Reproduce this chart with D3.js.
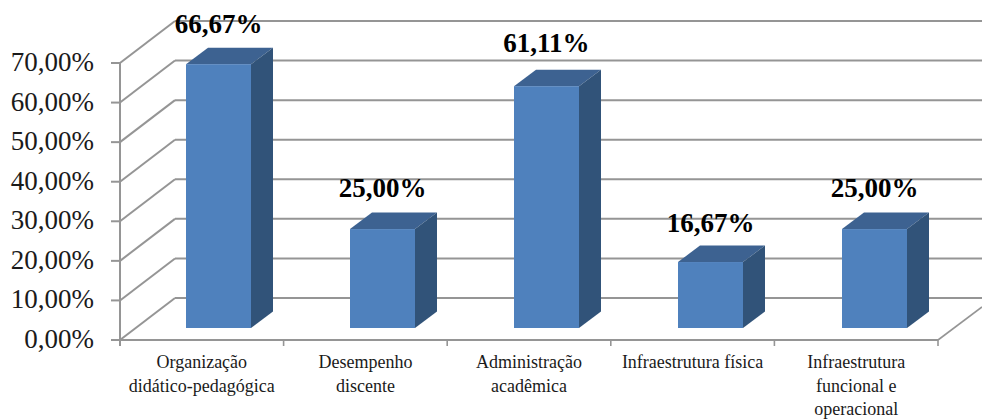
<!DOCTYPE html>
<html><head><meta charset="utf-8">
<script src="https://cdn.jsdelivr.net/npm/d3@7"></script>
<style>html,body{margin:0;padding:0;background:#fff}svg{display:block}text{font-family:"Liberation Serif",serif}</style>
</head><body><svg id="c" width="982" height="419"></svg>
<script>
const categories=[["Organização","didático-pedagógica"],["Desempenho","discente"],["Administração","acadêmica"],["Infraestrutura física"],["Infraestrutura","funcional e","operacional"]];
const values=[66.67,25,61.11,16.67,25];
const valueLabels=["66,67%","25,00%","61,11%","16,67%","25,00%"];
const ticks=[0,10,20,30,40,50,60,70];
const tickLabels=["0,00%","10,00%","20,00%","30,00%","40,00%","50,00%","60,00%","70,00%"];
const svg=d3.select("#c");
const y=d3.scaleLinear().domain([0,70]).range([340,63]);
const x=d3.scaleBand().domain(d3.range(categories.length)).range([120,938]);
const xBar=d3.scaleBand().domain(d3.range(categories.length)).range([121,941]);
const labelShift=[-15,-16,-18,-14,-16];
const dxW=55,dyW=-42,grid="#959595";
const line=(a,b,c,d,col=grid,w=2)=>svg.append("line").attr("x1",a).attr("y1",b).attr("x2",c).attr("y2",d).attr("stroke",col).attr("stroke-width",w);
ticks.forEach(t=>{
  line(120,y(t),120+dxW,y(t)+dyW);
  line(120+dxW,y(t)+dyW,982,y(t)+dyW);
  line(111,y(t),120,y(t));
});
line(120,y(0),120,y(70));
line(120,y(0),938,y(0));
line(938,y(0),982,y(0)-33,grid,1.6);
d3.range(1,6).forEach(i=>{const px=i<5?x(i):938; line(px,y(0),px,y(0)+6,grid,1.6);});
line(120,y(0),120,y(0)+6);
const bw=65,dbx=22,dby=-16.5,base=12;
const g=svg.append("g");
values.forEach((v,i)=>{
  const cx=xBar(i)+xBar.bandwidth()/2+15.5;
  const l=cx-bw/2,r=l+bw,b=y(0)-base,t=y(v)-base;
  g.append("polygon").attr("fill","#3d6291").attr("points",[[l,t],[l+dbx,t+dby],[r+dbx,t+dby],[r,t]].join(" "));
  g.append("polygon").attr("fill","#315379").attr("points",[[r,t],[r+dbx,t+dby],[r+dbx,b+dby],[r,b]].join(" "));
  g.append("rect").attr("x",l).attr("y",t).attr("width",bw).attr("height",b-t).attr("fill","#4f81bd");
  svg.append("text").attr("x",cx).attr("y",t+dby+labelShift[i]).attr("text-anchor","middle").attr("font-size",27).attr("font-weight","bold").attr("fill","#000").text(valueLabels[i]);
});
ticks.forEach((t,i)=>svg.append("text").attr("x",94).attr("y",y(t)+8).attr("text-anchor","end").attr("font-size",27).attr("fill","#1a1a1a").text(tickLabels[i]));
categories.forEach((c,i)=>{
  const cx=x(i)+x.bandwidth()/2;
  c.forEach((s,j)=>svg.append("text").attr("x",cx).attr("y",368+j*23.5).attr("text-anchor","middle").attr("font-size",18).attr("fill","#1a1a1a").text(s));
});
</script></body></html>
